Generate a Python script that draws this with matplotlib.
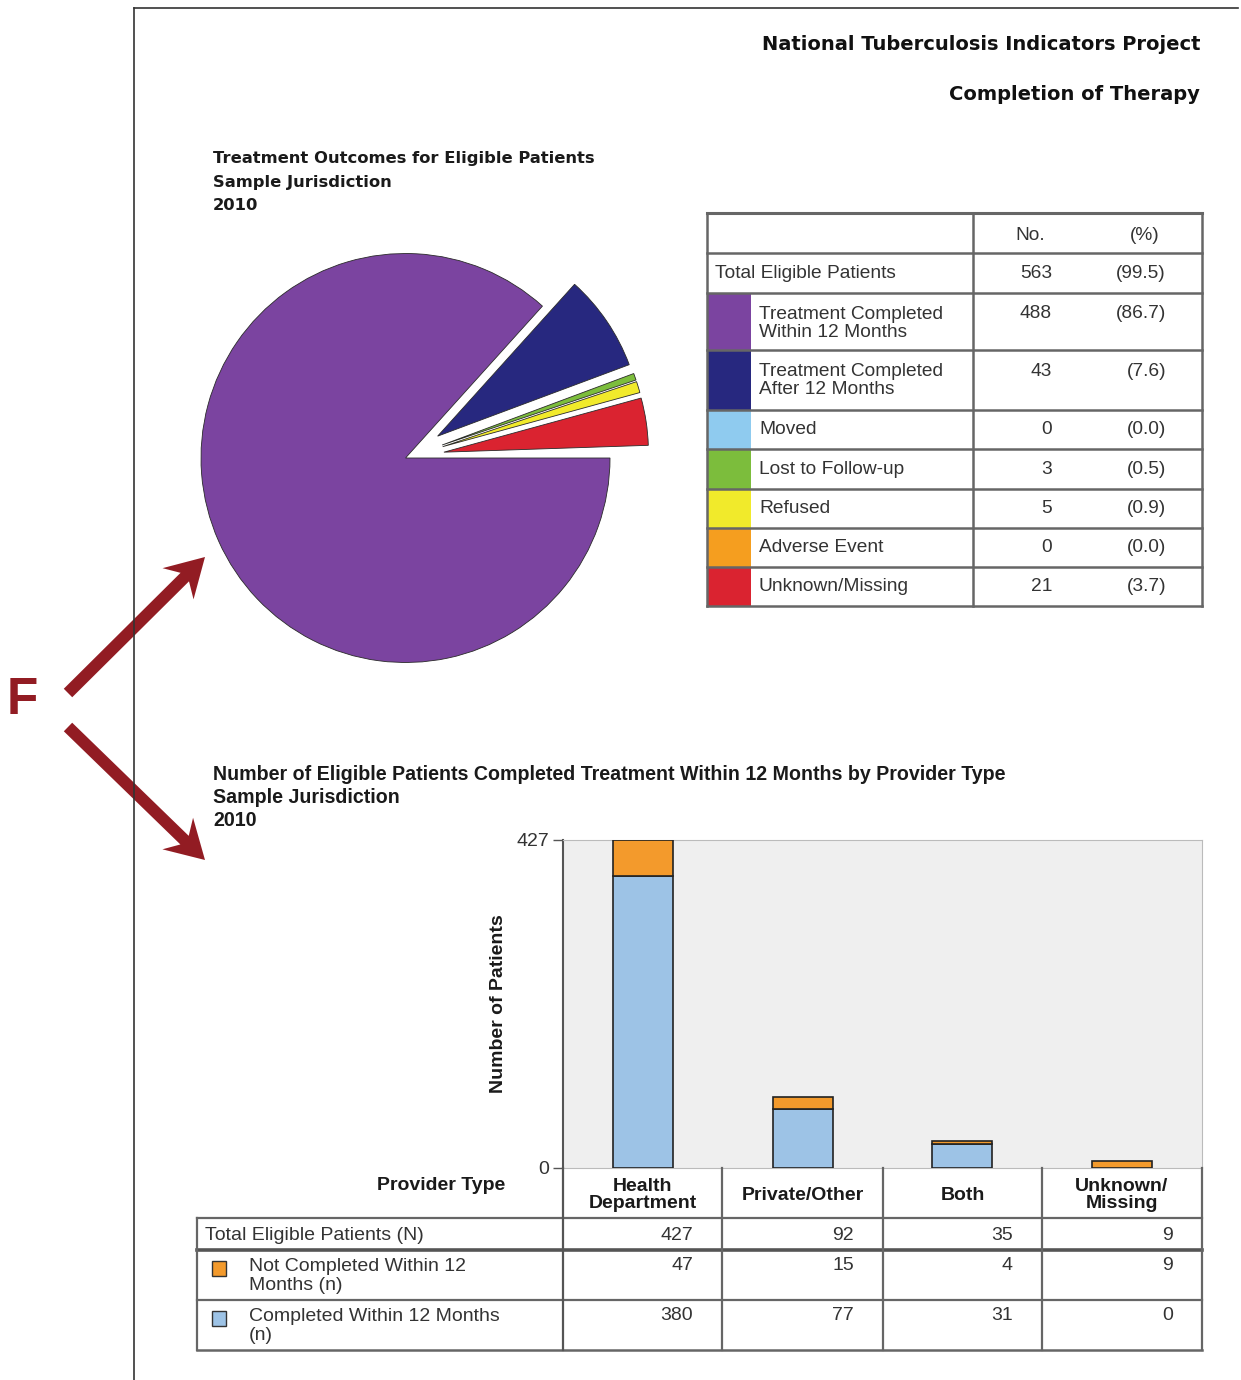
import numpy as np
import matplotlib
matplotlib.use('Agg')
from matplotlib import pyplot as plt
from matplotlib import font_manager
from matplotlib.patches import Rectangle, FancyArrow

names = {f.name for f in font_manager.fontManager.ttflist}
NARROW = 'Liberation Sans Narrow' if 'Liberation Sans Narrow' in names else 'Liberation Sans'

# treatment outcomes (pie + table)
outcomes = ['Treatment Completed\nWithin 12 Months', 'Treatment Completed\nAfter 12 Months',
            'Moved', 'Lost to Follow-up', 'Refused', 'Adverse Event', 'Unknown/Missing']
outcome_n = [488, 43, 0, 3, 5, 0, 21]
outcome_pct = [86.7, 7.6, 0.0, 0.5, 0.9, 0.0, 3.7]
outcome_colors = ['#7B44A0', '#27287F', '#8FCBEF', '#7CBD3C', '#F1EA2B', '#F59E1F', '#DA2330']
total_eligible = 563
total_pct = 99.5

# completion by provider type (bars + table)
providers = ['Health\nDepartment', 'Private/Other', 'Both', 'Unknown/\nMissing']
prov_total = [427, 92, 35, 9]
prov_not_completed = [47, 15, 4, 9]
prov_completed = [380, 77, 31, 0]

BLUE = '#9DC3E6'
ORANGE = '#F39A2C'
DARKRED = '#921C23'
LINE = '#666666'
TXT = '#333333'

W, H = 1241, 1380
fig = plt.figure(figsize=(W / 100, H / 100), dpi=100)


def box(l, t, r, b):
    return [l / W, 1 - b / H, (r - l) / W, (b - t) / H]


# ---- pie
cx, cy, rad = 405.5, 458, 204.5
pax = fig.add_axes(box(cx - 1.25 * rad, cy - 1.25 * rad, cx + 1.25 * rad, cy + 1.25 * rad))
fr = np.array(outcome_n) / total_eligible
explode = [0] + [0.19] * (len(outcome_n) - 1)
wedges, _ = pax.pie(fr, colors=outcome_colors, startangle=0, counterclock=False,
                    normalize=False, explode=explode,
                    wedgeprops=dict(edgecolor='#2a2a2a', linewidth=0.6))
for w, n in zip(wedges, outcome_n):
    if n == 0:
        w.set_visible(False)
pax.set_xlim(-1.25, 1.25)
pax.set_ylim(-1.25, 1.25)
pax.set_aspect('equal')

# ---- bars
bax = fig.add_axes(box(563, 840, 1202, 1168))
bax.set_facecolor('#EFEFEF')
x = np.arange(len(providers))
bax.bar(x, prov_completed, 0.375, color=BLUE, edgecolor='#222222', lw=1.2, zorder=3)
bax.bar(x, prov_not_completed, 0.375, bottom=prov_completed, color=ORANGE,
        edgecolor='#222222', lw=1.2, zorder=3)
bax.set_xlim(-0.5, len(providers) - 0.5)
bax.set_ylim(0, max(prov_total))
bax.set_xticks([])
bax.set_yticks([0, max(prov_total)])
bax.tick_params(axis='y', length=7, width=1, color='#555555', labelsize=14,
                labelcolor=TXT, pad=3)
for lab in bax.get_yticklabels():
    lab.set_family(NARROW)
for s in ['top', 'right', 'bottom']:
    bax.spines[s].set_color('#BBBBBB')
bax.spines['left'].set_color('#555555')
bax.spines['left'].set_linewidth(1.5)
bax.set_ylabel('Number of Patients', fontsize=14, fontweight='bold',
               family='Liberation Sans', color='#1a1a1a')
bax.yaxis.set_label_coords(-(563 - 507) / 639, 0.5)

# ---- overlay in pixel coords
ov = fig.add_axes([0, 0, 1, 1])
ov.set_xlim(0, W)
ov.set_ylim(H, 0)
ov.axis('off')

ov.plot([134, 134], [8, H], color='#333333', lw=1.2)
ov.plot([134, 1238], [8, 8], color='#333333', lw=1.2)

ov.text(1200, 45, 'National Tuberculosis Indicators Project', ha='right', va='center',
        fontsize=14, fontweight='bold', family='DejaVu Sans', color='#111111')
ov.text(1200, 94, 'Completion of Therapy', ha='right', va='center',
        fontsize=14, fontweight='bold', family='DejaVu Sans', color='#111111')

for i, s in enumerate(['Treatment Outcomes for Eligible Patients', 'Sample Jurisdiction', '2010']):
    ov.text(213, 158 + 24 * i, s, ha='left', va='center', fontsize=11.8,
            fontweight='bold', family='DejaVu Sans', color='#1a1a1a')

for i, s in enumerate(['Number of Eligible Patients Completed Treatment Within 12 Months by Provider Type',
                       'Sample Jurisdiction', '2010']):
    ov.text(213, 774 + 23.5 * i, s, ha='left', va='center', fontsize=14.1,
            fontweight='bold', family=NARROW, color='#1a1a1a')

# F and arrows
ov.text(22, 700, 'F', ha='center', va='center', fontsize=37, fontweight='bold',
        family='Liberation Sans', color=DARKRED)
for x0, y0, x1, y1 in [(68, 693, 205, 557), (68, 727, 205, 860)]:
    ov.add_patch(FancyArrow(x0, y0, x1 - x0, y1 - y0, width=12, head_width=44,
                            head_length=38, length_includes_head=True, overhang=0.25,
                            color=DARKRED, lw=0))

# ---- outcome table
ty = [213, 253, 293, 350, 410, 449, 489, 528, 567, 606]
tx0, tsw, tdiv, tx1 = 707, 751, 973, 1202
for i, c in enumerate(outcome_colors):
    ov.add_patch(Rectangle((tx0, ty[i + 2]), tsw - tx0, ty[i + 3] - ty[i + 2],
                           facecolor=c, edgecolor='none'))
for y in ty:
    ov.plot([tx0, tx1], [y, y], color=LINE, lw=2.2 if y == ty[0] else 1.8)
for xx in [tx0, tdiv, tx1]:
    ov.plot([xx, xx], [ty[0], ty[-1]], color=LINE, lw=1.8)

tkw = dict(fontsize=13.8, family='Liberation Sans', color=TXT, va='center')
ov.text(1030, 235, 'No.', ha='center', **tkw)
ov.text(1145, 235, '(%)', ha='center', **tkw)
ov.text(715, 273, 'Total Eligible Patients', ha='left', **tkw)
ov.text(1052, 273, str(total_eligible), ha='right', **tkw)
ov.text(1166, 273, '(%.1f)' % total_pct, ha='right', **tkw)
for i, lab in enumerate(outcomes):
    top, bot = ty[i + 2], ty[i + 3]
    if '\n' in lab:
        ov.text(759, top + 13, lab, ha='left', linespacing=1.05, **dict(tkw, va='top'))
        yy = top + 21
    else:
        yy = (top + bot) / 2
        ov.text(759, yy, lab, ha='left', **tkw)
    ov.text(1052, yy, str(outcome_n[i]), ha='right', **tkw)
    ov.text(1166, yy, '(%.1f)' % outcome_pct[i], ha='right', **tkw)

# ---- provider table
cols = [563, 722, 883, 1042, 1202]
ry = [1168, 1218, 1250, 1300, 1350]
ov.plot([197, 1202], [ry[1], ry[1]], color=LINE, lw=1.6)
ov.plot([197, 1202], [ry[2], ry[2]], color='#555555', lw=2.6)
ov.plot([197, 1202], [ry[3], ry[3]], color=LINE, lw=1.6)
ov.plot([197, 1202], [ry[4], ry[4]], color=LINE, lw=1.8)
ov.plot([197, 197], [ry[1], ry[4]], color=LINE, lw=1.6)
for xx in cols:
    ov.plot([xx, xx], [ry[0], ry[4]], color='#555555' if xx == cols[0] else LINE, lw=1.6)

hkw = dict(fontsize=14, fontweight='bold', family=NARROW, color='#1a1a1a', va='center')
ov.text(505, 1186, 'Provider Type', ha='right', **hkw)
for i, p in enumerate(providers):
    ov.text((cols[i] + cols[i + 1]) / 2, 1195, p, ha='center', linespacing=1.0, **hkw)

bkw = dict(fontsize=14, family=NARROW, color=TXT, va='center')
ov.text(205, 1235, 'Total Eligible Patients (N)', ha='left', **bkw)
ov.add_patch(Rectangle((212, 1261), 14, 15, facecolor=ORANGE, edgecolor='#333333', lw=1))
ov.text(249, 1258, 'Not Completed Within 12\nMonths (n)', ha='left', linespacing=1.15,
        **dict(bkw, va='top'))
ov.add_patch(Rectangle((212, 1311), 14, 15, facecolor=BLUE, edgecolor='#333333', lw=1))
ov.text(249, 1308, 'Completed Within 12 Months\n(n)', ha='left', linespacing=1.15,
        **dict(bkw, va='top'))
for i in range(len(providers)):
    xr = cols[i + 1] - 29
    ov.text(xr, 1235, str(prov_total[i]), ha='right', **bkw)
    ov.text(xr, 1266, str(prov_not_completed[i]), ha='right', **bkw)
    ov.text(xr, 1316, str(prov_completed[i]), ha='right', **bkw)

fig.savefig('out.png', dpi=100, facecolor='white')
